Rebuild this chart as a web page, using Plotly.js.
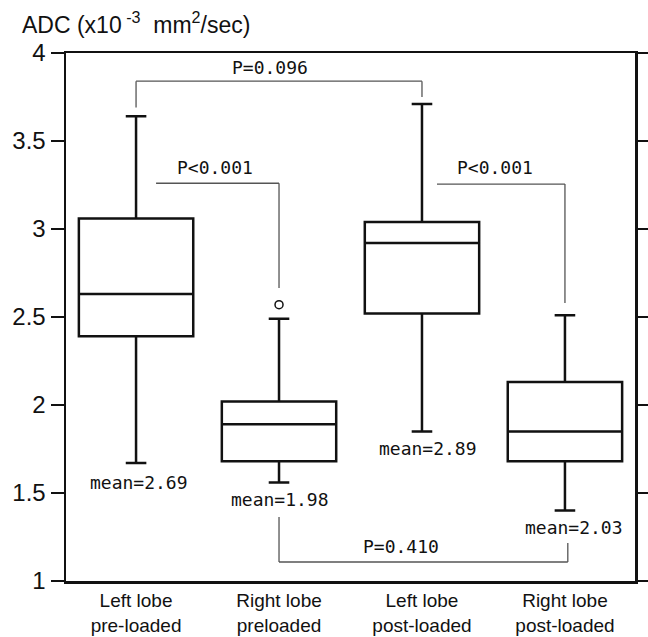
<!DOCTYPE html>
<html><head><meta charset="utf-8">
<script src="https://cdn.plot.ly/plotly-3.0.1.min.js"></script>
<style>html,body{margin:0;padding:0;background:#fff}</style>
</head><body><div id="chart" style="width:648px;height:637px"></div>
<script>
// categories
const categories = ["Left lobe<br>pre-loaded", "Right lobe<br>preloaded", "Left lobe<br>post-loaded", "Right lobe<br>post-loaded"];
const catPos = [0, 1, 2, 3];
// box statistics (ADC x10^-3 mm^2/sec)
const lowerWhisker = [1.67, 1.56, 1.85, 1.40];
const q1Vals = [2.39, 1.68, 2.52, 1.68];
const medianVals = [2.63, 1.89, 2.92, 1.85];
const q3Vals = [3.06, 2.02, 3.04, 2.13];
const upperWhisker = [3.64, 2.49, 3.71, 2.51];
// outlier
const outlierX = [1];
const outlierY = [2.57];
// mean labels
const meanText = ["mean=2.69", "mean=1.98", "mean=2.89", "mean=2.03"];
const meanX = [0.02, 1.01, 2.04, 3.06];
const meanY = [1.56, 1.465, 1.755, 1.305];
// p-value brackets
const pText = ["P=0.096", "P<0.001", "P<0.001", "P=0.410"];
const bracketX1 = [0, 0.14, 2.105, 1];
const bracketX2 = [2, 1, 3, 3.02];
const bracketY = [3.84, 3.26, 3.255, 1.108];
const legY1 = [3.69, 3.26, 3.255, 1.364];
const legY2 = [3.75, 2.665, 2.58, 1.216];
const pTextX = [0.94, 0.55, 2.51, 1.85];
const pTextY = [3.92, 3.35, 3.35, 1.195];

const monoFont = {family: "DejaVu Sans Mono", size: 18, color: "#111"};

const traces = [{
  type: "box",
  x: catPos,
  q1: q1Vals, median: medianVals, q3: q3Vals,
  lowerfence: lowerWhisker, upperfence: upperWhisker,
  width: 0.8,
  whiskerwidth: 0.18,
  boxpoints: false,
  line: {color: "#111", width: 2.5},
  fillcolor: "rgba(255,255,255,0)",
  hoverinfo: "skip"
}, {
  type: "scatter", mode: "markers",
  x: outlierX, y: outlierY,
  marker: {symbol: "circle-open", size: 8, color: "#111", line: {width: 1.5, color: "#111"}},
  hoverinfo: "skip"
}];

const shapes = [];
const annotations = [];
for (let i = 0; i < pText.length; i++) {
  const ln = {color: "#555", width: 1.3};
  shapes.push({type: "line", xref: "x", yref: "y", x0: bracketX1[i], x1: bracketX2[i], y0: bracketY[i], y1: bracketY[i], line: ln});
  shapes.push({type: "line", xref: "x", yref: "y", x0: bracketX1[i], x1: bracketX1[i], y0: bracketY[i], y1: legY1[i], line: ln});
  shapes.push({type: "line", xref: "x", yref: "y", x0: bracketX2[i], x1: bracketX2[i], y0: bracketY[i], y1: legY2[i], line: ln});
  annotations.push({x: pTextX[i], y: pTextY[i], xref: "x", yref: "y", text: pText[i], showarrow: false, font: monoFont});
}
for (let i = 0; i < meanText.length; i++) {
  annotations.push({x: meanX[i], y: meanY[i], xref: "x", yref: "y", text: meanText[i], showarrow: false, font: monoFont});
}
annotations.push({
  x: -0.081, y: 1.056, xref: "paper", yref: "paper", xanchor: "left", yanchor: "middle",
  text: "ADC (x10<sup>&nbsp;-3</sup>&nbsp;&nbsp;mm<sup>2</sup>/sec)", showarrow: false,
  font: {family: "Liberation Sans", size: 23, color: "#111"}
});

const layout = {
  width: 648, height: 637,
  margin: {l: 66, r: 13, t: 53, b: 56},
  paper_bgcolor: "#fff", plot_bgcolor: "#fff",
  showlegend: false,
  xaxis: {
    range: [-0.49, 3.49], tickvals: catPos, ticktext: categories,
    showgrid: false, zeroline: false, showline: true, linecolor: "#111", linewidth: 2.5,
    mirror: true, ticks: "", ticklabelstandoff: 1,
    tickfont: {family: "Liberation Sans", size: 19, color: "#111"}
  },
  yaxis: {
    range: [1, 4], dtick: 0.5, tick0: 1,
    showgrid: false, zeroline: false, showline: true, linecolor: "#111", linewidth: 2.5,
    mirror: "ticks", ticks: "outside", ticklen: 13, tickwidth: 2.5, tickcolor: "#111",
    tickfont: {family: "Liberation Sans", size: 24, color: "#111"}
  },
  shapes: shapes,
  annotations: annotations
};

Plotly.newPlot("chart", traces, layout, {staticPlot: true});
</script>
</body></html>
